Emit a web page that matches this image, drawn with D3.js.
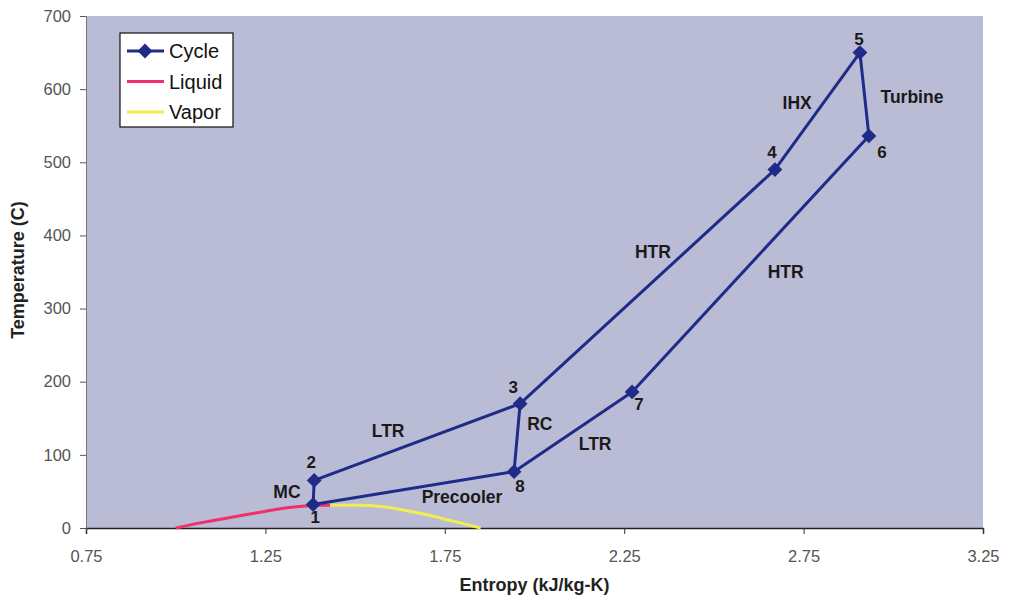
<!DOCTYPE html>
<html>
<head>
<meta charset="utf-8">
<script src="https://cdn.jsdelivr.net/npm/d3@7"></script>
<style>
body { margin: 0; background: #fff; }
svg text { font-family: Arial, "Liberation Sans", sans-serif; }
</style>
</head>
<body>
<div id="chart"></div>
<script>
// state points of the cycle (entropy kJ/kg-K, temperature C)
var pointNames = ["1", "2", "3", "4", "5", "6", "7", "8"];
var pointS = [1.383, 1.386, 1.960, 2.670, 2.907, 2.932, 2.272, 1.943];
var pointT = [32, 65, 170, 490, 650, 536, 186, 77];
// drawing order through the points (one path covers every process)
var cycleOrder = ["3", "2", "1", "8", "7", "6", "5", "4", "3", "8"];

var liquidS = [1.00, 1.08, 1.16, 1.24, 1.30, 1.36, 1.40, 1.43];
var liquidT = [0, 8, 15, 22, 27, 30, 31, 31];
var vaporS = [1.43, 1.50, 1.58, 1.64, 1.70, 1.76, 1.81, 1.85];
var vaporT = [31, 31, 29, 24, 18, 11, 5, 0];

var xTicks = [0.75, 1.25, 1.75, 2.25, 2.75, 3.25];
var yTicks = [0, 100, 200, 300, 400, 500, 600, 700];

// process labels placed in data coordinates
var processNames = ["MC", "LTR", "Precooler", "RC", "LTR", "HTR", "HTR", "IHX", "Turbine"];
var processS = [1.31, 1.592, 1.798, 2.015, 2.169, 2.33, 2.70, 2.732, 3.052];
var processT = [49, 133, 42, 142, 115, 377, 350, 581, 589];

var width = 1013, height = 598,
	plotLeft = 86, plotRight = 983, plotTop = 16, plotBottom = 528;

var x = d3.scaleLinear().domain([0.75, 3.25]).range([plotLeft, plotRight]);
var y = d3.scaleLinear().domain([0, 700]).range([plotBottom, plotTop]);

var svg = d3.select("#chart").append("svg")
	.attr("width", width)
	.attr("height", height);

svg.append("rect")
	.attr("x", plotLeft)
	.attr("y", plotTop)
	.attr("width", plotRight - plotLeft)
	.attr("height", plotBottom - plotTop)
	.attr("fill", "#babbd4");

var xAxis = svg.append("g")
	.attr("transform", "translate(0," + plotBottom + ")")
	.call(d3.axisBottom(x).tickValues(xTicks).tickSize(6).tickFormat(d3.format(".2f")));
var yAxis = svg.append("g")
	.attr("transform", "translate(" + plotLeft + ",0)")
	.call(d3.axisLeft(y).tickValues(yTicks).tickSize(6).tickFormat(d3.format("d")));

xAxis.select(".domain").attr("stroke", "#222").attr("stroke-width", 1.5);
yAxis.select(".domain").attr("stroke", "#777");
xAxis.selectAll(".tick line").attr("stroke", "#333");
yAxis.selectAll(".tick line").attr("stroke", "#555");
xAxis.selectAll("text")
	.attr("font-size", 16.5).attr("fill", "#555").attr("y", 22).attr("dy", "0.71em");
yAxis.selectAll("text")
	.attr("font-size", 16.5).attr("fill", "#555").attr("x", -15);

svg.append("text")
	.attr("transform", "translate(24," + 270 + ") rotate(-90)")
	.attr("text-anchor", "middle")
	.attr("font-size", 18)
	.attr("font-weight", "bold")
	.attr("fill", "#222")
	.text("Temperature (C)");

svg.append("text")
	.attr("x", (plotLeft + plotRight) / 2)
	.attr("y", 591)
	.attr("text-anchor", "middle")
	.attr("font-size", 18)
	.attr("font-weight", "bold")
	.attr("fill", "#222")
	.text("Entropy (kJ/kg-K)");

var line = d3.line()
	.x(function(d) { return x(d[0]); })
	.y(function(d) { return y(d[1]); })
	.curve(d3.curveMonotoneX);

var liquid = liquidS.map(function(s, i) { return [s, liquidT[i]]; });
var vapor = vaporS.map(function(s, i) { return [s, vaporT[i]]; });

svg.append("path")
	.attr("d", line(liquid))
	.attr("fill", "none")
	.attr("stroke", "#f0306a")
	.attr("stroke-width", 3);

svg.append("path")
	.attr("d", line(vapor))
	.attr("fill", "none")
	.attr("stroke", "#f2ee50")
	.attr("stroke-width", 3);

var cycle = cycleOrder.map(function(n) {
	var i = pointNames.indexOf(n);
	return [pointS[i], pointT[i]];
});

svg.append("path")
	.attr("d", d3.line()
		.x(function(d) { return x(d[0]); })
		.y(function(d) { return y(d[1]); })(cycle))
	.attr("fill", "none")
	.attr("stroke", "#1e2b88")
	.attr("stroke-width", 3)
	.attr("stroke-linejoin", "round");

var diamond = d3.symbol().type(d3.symbolDiamond2).size(140);

svg.selectAll("path.marker")
	.data(pointNames)
	.enter().append("path")
	.attr("class", "marker")
	.attr("d", diamond)
	.attr("transform", function(d, i) {
		return "translate(" + x(pointS[i]) + "," + y(pointT[i]) + ")";
	})
	.attr("fill", "#1e2b88");

// point number offsets from the marker (pixels, text centre)
var numOffsets = {
	"1": [2, 13], "2": [-3, -18], "3": [-7, -16], "4": [-3, -17],
	"5": [-1, -13], "6": [13, 17], "7": [7, 13], "8": [6, 15]
};

svg.selectAll("text.num")
	.data(pointNames)
	.enter().append("text")
	.attr("class", "num")
	.attr("x", function(d, i) { return x(pointS[i]) + numOffsets[d][0]; })
	.attr("y", function(d, i) { return y(pointT[i]) + numOffsets[d][1]; })
	.attr("text-anchor", "middle")
	.attr("dominant-baseline", "central")
	.attr("font-size", 17)
	.attr("font-weight", "bold")
	.attr("fill", "#1a1a1a")
	.text(function(d) { return d; });

svg.selectAll("text.proc")
	.data(processNames)
	.enter().append("text")
	.attr("class", "proc")
	.attr("x", function(d, i) { return x(processS[i]); })
	.attr("y", function(d, i) { return y(processT[i]); })
	.attr("text-anchor", "middle")
	.attr("dominant-baseline", "central")
	.attr("font-size", 17.5)
	.attr("font-weight", "bold")
	.attr("fill", "#1a1a1a")
	.text(function(d) { return d; });

// legend
var legend = svg.append("g").attr("transform", "translate(120,33)");
legend.append("rect")
	.attr("width", 113)
	.attr("height", 94)
	.attr("fill", "#fff")
	.attr("stroke", "#111")
	.attr("stroke-width", 1.2);

var legendItems = [
	{name: "Cycle", color: "#1e2b88", marker: true},
	{name: "Liquid", color: "#f0306a", marker: false},
	{name: "Vapor", color: "#f2ee50", marker: false}
];

var item = legend.selectAll("g.item")
	.data(legendItems)
	.enter().append("g")
	.attr("class", "item")
	.attr("transform", function(d, i) { return "translate(0," + (18 + i * 30.5) + ")"; });

item.append("line")
	.attr("x1", 7).attr("x2", 44)
	.attr("stroke", function(d) { return d.color; })
	.attr("stroke-width", 3);

item.filter(function(d) { return d.marker; })
	.append("path")
	.attr("d", diamond)
	.attr("transform", "translate(25,0)")
	.attr("fill", function(d) { return d.color; });

item.append("text")
	.attr("x", 49)
	.attr("dy", "0.36em")
	.attr("font-size", 20)
	.attr("fill", "#111")
	.text(function(d) { return d.name; });
</script>
</body>
</html>
